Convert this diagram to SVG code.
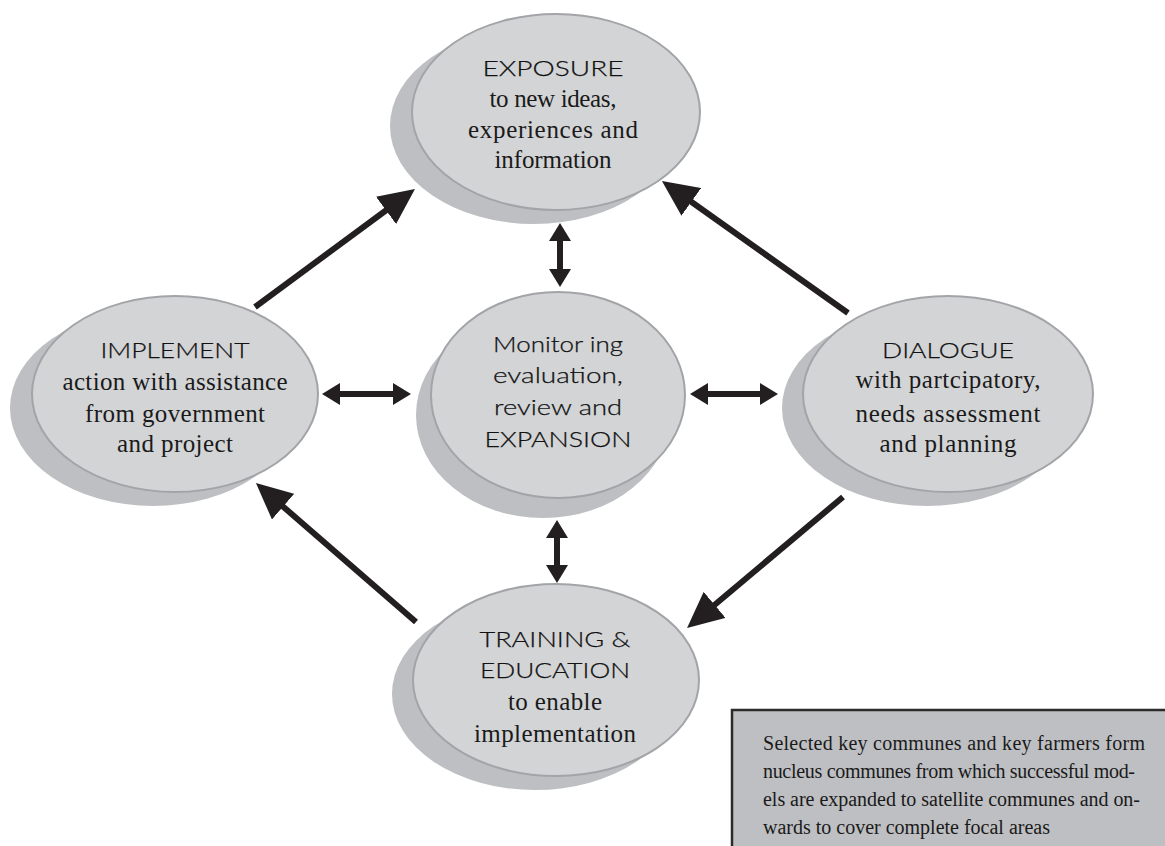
<svg xmlns="http://www.w3.org/2000/svg" width="1165" height="846" viewBox="0 0 1165 846">
<style>
.sh{fill:#bebfc2;stroke:none}
.fr{fill:#d3d4d6;stroke:#a3a4a7;stroke-width:2}
.hd{font-family:"Lato","Liberation Sans",sans-serif;font-weight:300;font-size:22px;fill:#111;stroke:#111;stroke-width:0.25;text-anchor:middle}
.sf{font-family:"Liberation Serif",serif;font-size:25px;fill:#1a1a1a;text-anchor:middle}
.bx{font-family:"Liberation Serif",serif;font-size:20px;fill:#1a1a1a}
.ln{stroke:#231f20;stroke-width:6;fill:none}
.dl{stroke:#231f20;stroke-width:6;fill:none}
</style>
<defs>
<marker id="ah" markerUnits="userSpaceOnUse" viewBox="0 -17 36 34" markerWidth="36" markerHeight="34" refX="20" refY="0" orient="auto">
<path d="M0,-17 L36,0 L0,17 z" fill="#231f20"/>
</marker>
<marker id="dh" markerUnits="userSpaceOnUse" viewBox="0 -11 18 22" markerWidth="18" markerHeight="22" refX="10" refY="0" orient="auto-start-reverse">
<path d="M0,-11 L18,0 L0,11 z" fill="#231f20"/>
</marker>
</defs>
<g id="connectors">
<line class="ln" x1="255" y1="307" x2="402.1" y2="198.5" marker-end="url(#ah)"/>
<line class="ln" x1="848" y1="313" x2="675" y2="190.3" marker-end="url(#ah)"/>
<line class="ln" x1="416" y1="622" x2="268" y2="493.5" marker-end="url(#ah)"/>
<line class="ln" x1="843" y1="497" x2="699.3" y2="617.7" marker-end="url(#ah)"/>
<line class="dl" x1="560" y1="231" x2="560" y2="279" marker-start="url(#dh)" marker-end="url(#dh)"/>
<line class="dl" x1="557" y1="528" x2="557" y2="575" marker-start="url(#dh)" marker-end="url(#dh)"/>
<line class="dl" x1="330" y1="394" x2="403" y2="394" marker-start="url(#dh)" marker-end="url(#dh)"/>
<line class="dl" x1="698" y1="394" x2="770" y2="394" marker-start="url(#dh)" marker-end="url(#dh)"/>
</g>
<g id="exposure">
<ellipse class="sh" cx="534" cy="126" rx="144" ry="98"/>
<ellipse class="fr" cx="556" cy="112" rx="144" ry="98"/>
<text class="hd" x="553" y="76" textLength="141" lengthAdjust="spacingAndGlyphs">EXPOSURE</text>
<text class="sf" x="553" y="107" textLength="127">to new ideas,</text>
<text class="sf" x="553" y="138" textLength="170">experiences and</text>
<text class="sf" x="553" y="168" textLength="117">information</text>
</g>
<g id="implement">
<ellipse class="sh" cx="153" cy="408" rx="143" ry="98"/>
<ellipse class="fr" cx="175" cy="394" rx="143" ry="98"/>
<text class="hd" x="175" y="358" textLength="149" lengthAdjust="spacingAndGlyphs">IMPLEMENT</text>
<text class="sf" x="175" y="390" textLength="225">action with assistance</text>
<text class="sf" x="175" y="422" textLength="180">from government</text>
<text class="sf" x="175" y="452" textLength="116">and project</text>
</g>
<g id="dialogue">
<ellipse class="sh" cx="927" cy="408" rx="145" ry="98"/>
<ellipse class="fr" cx="948" cy="394" rx="145" ry="98"/>
<text class="hd" x="948" y="358" textLength="132" lengthAdjust="spacingAndGlyphs">DIALOGUE</text>
<text class="sf" x="948" y="388" textLength="185">with partcipatory,</text>
<text class="sf" x="948" y="422" textLength="185">needs assessment</text>
<text class="sf" x="948" y="452" textLength="137">and planning</text>
</g>
<g id="monitoring">
<ellipse class="sh" cx="543" cy="415" rx="127" ry="103"/>
<ellipse class="fr" cx="558" cy="395" rx="127" ry="103"/>
<text class="hd" x="558" y="352" textLength="130" lengthAdjust="spacingAndGlyphs">Monitor ing</text>
<text class="hd" x="558" y="383" textLength="130" lengthAdjust="spacingAndGlyphs">evaluation,</text>
<text class="hd" x="558" y="415" textLength="128" lengthAdjust="spacingAndGlyphs">review and</text>
<text class="hd" x="558" y="447" textLength="147" lengthAdjust="spacingAndGlyphs">EXPANSION</text>
</g>
<g id="training">
<ellipse class="sh" cx="535" cy="694" rx="143" ry="96"/>
<ellipse class="fr" cx="556" cy="680" rx="143" ry="96"/>
<text class="hd" x="555" y="647" textLength="151" lengthAdjust="spacingAndGlyphs">TRAINING &amp;</text>
<text class="hd" x="555" y="678" textLength="150" lengthAdjust="spacingAndGlyphs">EDUCATION</text>
<text class="sf" x="555" y="710" textLength="94">to enable</text>
<text class="sf" x="555" y="742" textLength="162">implementation</text>
</g>
<g id="note">
<rect x="732" y="710" width="440" height="145" fill="#bebfc2" stroke="#2b2b2b" stroke-width="2.5"/>
<text class="bx" x="763" y="750" textLength="382">Selected key communes and key farmers form</text>
<text class="bx" x="763" y="778" textLength="372">nucleus communes from which successful mod-</text>
<text class="bx" x="763" y="806" textLength="377">els are expanded to satellite communes and on-</text>
<text class="bx" x="763" y="834" textLength="287">wards to cover complete focal areas</text>
</g>
</svg>
